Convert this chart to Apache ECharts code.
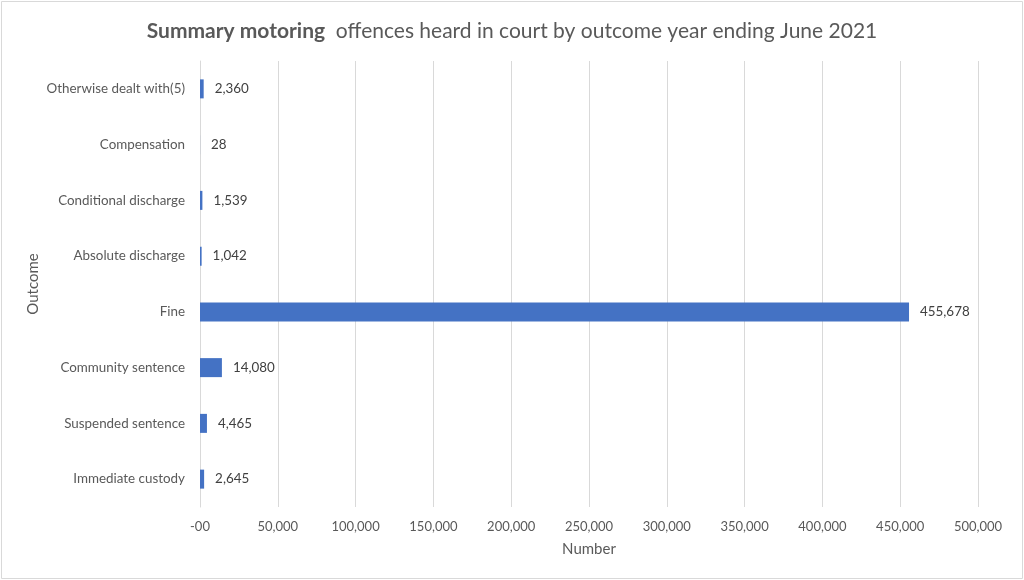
<!DOCTYPE html>
<html>
<head>
<meta charset="utf-8">
<script src="https://cdn.jsdelivr.net/npm/echarts@6/dist/echarts.min.js"></script>
<style>html,body{margin:0;padding:0;background:#fff}#c{width:1024px;height:580px}</style>
</head>
<body>
<div id="c"></div>
<script>
const categories = ["Immediate custody","Suspended sentence","Community sentence","Fine","Absolute discharge","Conditional discharge","Compensation","Otherwise dealt with(5)"];
const values = [2645, 4465, 14080, 455678, 1042, 1539, 28, 2360];
const xTicks = {min: 0, max: 500000, interval: 50000};

const FONT = 'Lato, "Liberation Sans", sans-serif';
const chart = echarts.init(document.getElementById('c'));
chart.setOption({
  animation: false,
  textStyle: {fontFamily: FONT},
  title: {
    text: '{b|Summary motoring}  offences heard in court by outcome year ending June 2021',
    left: 'center', top: 16,
    textStyle: {
      fontFamily: FONT, fontSize: 21, fontWeight: 'normal', color: '#595959',
      rich: {b: {fontFamily: FONT, fontSize: 21, fontWeight: 'bold', color: '#595959'}}
    }
  },
  graphic: [{type: 'rect', shape: {x: 1.5, y: 1.5, width: 1021, height: 577}, style: {fill: 'none', stroke: '#d9d9d9', lineWidth: 1}, silent: true}],
  grid: {left: 200, right: 46, top: 61, bottom: 73},
  xAxis: {
    type: 'value', min: xTicks.min, max: xTicks.max, interval: xTicks.interval,
    name: 'Number', nameLocation: 'middle', nameGap: 35,
    nameTextStyle: {fontSize: 15, color: '#595959', fontFamily: FONT},
    axisLine: {show: false}, axisTick: {show: false},
    axisLabel: {fontSize: 13, color: '#595959', margin: 13, fontFamily: FONT,
      formatter: v => v === 0 ? '-00' : v.toLocaleString('en-US')},
    splitLine: {lineStyle: {color: '#d9d9d9', width: 1}}
  },
  yAxis: {
    type: 'category', data: categories,
    name: 'Outcome', nameLocation: 'middle', nameGap: 159, nameRotate: 90, nameMoveOverlap: false,
    nameTextStyle: {fontSize: 15, color: '#595959', fontFamily: FONT},
    axisLine: {show: true, lineStyle: {color: '#d9d9d9'}}, axisTick: {show: false},
    axisLabel: {fontSize: 13.4, color: '#595959', margin: 15, fontFamily: FONT}
  },
  series: [{
    type: 'bar', data: values, barWidth: 19,
    itemStyle: {color: '#4472C4'},
    label: {show: true, position: 'right', distance: 11, fontSize: 13.4, color: '#404040', fontFamily: FONT,
      formatter: p => p.value.toLocaleString('en-US')}
  }]
});
</script>
</body>
</html>
